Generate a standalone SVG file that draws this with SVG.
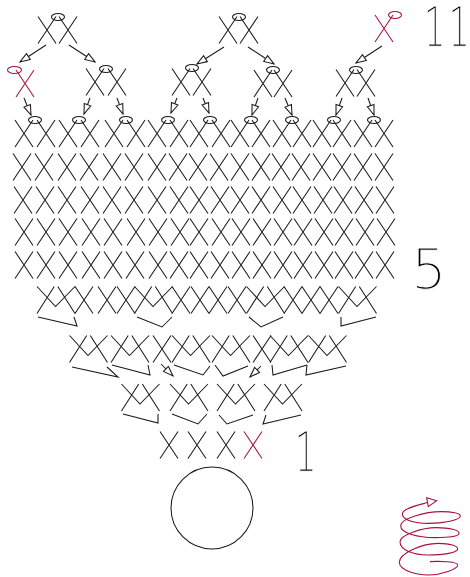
<svg xmlns="http://www.w3.org/2000/svg" width="470" height="577" viewBox="0 0 470 577">
<style>
.s{fill:none;stroke:#1a1a1a;stroke-width:1.05}
.r{fill:none;stroke:#a8123f;stroke-width:1.05}
.a{fill:none;stroke:#1a1a1a;stroke-width:1.05;marker-end:url(#ah)}
.d{font-family:"DejaVu Sans",sans-serif;font-weight:200;font-size:56px;fill:#000;stroke:#fff;stroke-width:.9}
</style>
<defs>
<marker id="ah" markerUnits="userSpaceOnUse" markerWidth="12" markerHeight="9" refX="10" refY="3.5" orient="auto" overflow="visible"><path d="M0,0L10,3.5L0,7Z" fill="#fff" stroke="#1a1a1a" stroke-width="1.05"/></marker>
<path id="x" d="M-9,-13.5L9,13.5M9,-13.5L-9,13.5"/>
<path id="v" d="M-19,-13.5L-0.500,6.500L19,-13.5M-19,13.5L-1.800,-13.5M1.800,-13.5L19,13.5"/>
</defs>
<rect width="470" height="577" fill="#fff"/>
<g id="row11" class="s">
<use href="#x" x="47" y="30"/><use href="#x" x="68" y="30"/><ellipse cx="58" cy="17" rx="6.5" ry="3.5"/>
<use href="#x" x="228" y="30"/><use href="#x" x="249" y="30"/><ellipse cx="239" cy="17" rx="6.5" ry="3.5"/>
</g>
<g id="row11-red" class="r"><use href="#x" x="384" y="28.5"/><ellipse cx="395" cy="15" rx="6.5" ry="3.5"/></g>
<g id="row10" class="s">
<use href="#x" x="95" y="82"/><use href="#x" x="117" y="82"/><ellipse cx="106" cy="69" rx="6.5" ry="3.5"/>
<use href="#x" x="181" y="82"/><use href="#x" x="202" y="82"/><ellipse cx="192" cy="68" rx="6.5" ry="3.5"/>
<use href="#x" x="263" y="83.5"/><use href="#x" x="283" y="83.5"/><ellipse cx="273" cy="70" rx="6.5" ry="3.5"/>
<use href="#x" x="345" y="83"/><use href="#x" x="366" y="83"/><ellipse cx="356" cy="70" rx="6.5" ry="3.5"/>
</g>
<g id="row10-red" class="r"><use href="#x" x="25" y="83.5"/><ellipse cx="14.500" cy="70" rx="7" ry="3.5"/></g>
<g id="row9" class="s">
<use href="#x" x="24" y="133.500"/><use href="#x" x="46" y="133.500"/><use href="#x" x="68" y="133.500"/><use href="#x" x="90" y="133.500"/><use href="#x" x="114" y="133.500"/><use href="#x" x="136" y="133.500"/><use href="#x" x="157" y="133.500"/><use href="#x" x="179" y="133.500"/><use href="#x" x="199" y="133.500"/><use href="#x" x="221" y="133.500"/><use href="#x" x="240" y="133.500"/><use href="#x" x="261" y="133.500"/><use href="#x" x="282" y="133.500"/><use href="#x" x="302" y="133.500"/><use href="#x" x="322" y="133.500"/><use href="#x" x="342" y="133.500"/><use href="#x" x="363" y="133.500"/><use href="#x" x="384" y="133.500"/>
<ellipse cx="35" cy="120" rx="6.5" ry="3.5"/><ellipse cx="79" cy="120" rx="6.5" ry="3.5"/><ellipse cx="126" cy="120" rx="6.5" ry="3.5"/><ellipse cx="168" cy="120" rx="6.5" ry="3.5"/><ellipse cx="210" cy="120" rx="6.5" ry="3.5"/><ellipse cx="251" cy="120" rx="6.5" ry="3.5"/><ellipse cx="292" cy="120" rx="6.5" ry="3.5"/><ellipse cx="334" cy="120" rx="6.5" ry="3.5"/><ellipse cx="374" cy="120" rx="6.5" ry="3.5"/>
</g>
<g id="row8" class="s">
<use href="#x" x="22" y="167"/><use href="#x" x="44" y="167"/><use href="#x" x="67" y="167"/><use href="#x" x="89" y="167"/><use href="#x" x="112" y="167"/><use href="#x" x="134" y="167"/><use href="#x" x="157" y="167"/><use href="#x" x="178" y="167"/><use href="#x" x="198" y="167"/><use href="#x" x="219" y="167"/><use href="#x" x="240" y="167"/><use href="#x" x="261" y="167"/><use href="#x" x="281" y="167"/><use href="#x" x="301" y="167"/><use href="#x" x="322" y="167"/><use href="#x" x="342" y="167"/><use href="#x" x="363" y="167"/><use href="#x" x="384" y="167"/>
</g>
<g id="row7" class="s">
<use href="#x" x="23" y="200"/><use href="#x" x="45" y="200"/><use href="#x" x="67" y="200"/><use href="#x" x="90" y="200"/><use href="#x" x="112" y="200"/><use href="#x" x="134" y="200"/><use href="#x" x="157" y="200"/><use href="#x" x="179" y="200"/><use href="#x" x="199" y="200"/><use href="#x" x="220" y="200"/><use href="#x" x="240" y="200"/><use href="#x" x="261" y="200"/><use href="#x" x="282" y="200"/><use href="#x" x="302" y="200"/><use href="#x" x="323" y="200"/><use href="#x" x="343" y="200"/><use href="#x" x="364" y="200"/><use href="#x" x="385" y="200"/>
</g>
<g id="row6" class="s">
<use href="#x" x="24" y="232"/><use href="#x" x="46" y="232"/><use href="#x" x="68" y="232"/><use href="#x" x="91" y="232"/><use href="#x" x="113" y="232"/><use href="#x" x="136" y="232"/><use href="#x" x="158" y="232"/><use href="#x" x="180" y="232"/><use href="#x" x="199" y="232"/><use href="#x" x="221" y="232"/><use href="#x" x="241" y="232"/><use href="#x" x="262" y="232"/><use href="#x" x="283" y="232"/><use href="#x" x="303" y="232"/><use href="#x" x="324" y="232"/><use href="#x" x="344" y="232"/><use href="#x" x="365" y="232"/><use href="#x" x="386" y="232"/>
</g>
<g id="row5" class="s">
<use href="#x" x="24" y="265"/><use href="#x" x="46" y="265"/><use href="#x" x="68" y="265"/><use href="#x" x="91" y="265"/><use href="#x" x="113" y="265"/><use href="#x" x="135" y="265"/><use href="#x" x="158" y="265"/><use href="#x" x="179" y="265"/><use href="#x" x="199" y="265"/><use href="#x" x="220" y="265"/><use href="#x" x="241" y="265"/><use href="#x" x="262" y="265"/><use href="#x" x="283" y="265"/><use href="#x" x="303" y="265"/><use href="#x" x="324" y="265"/><use href="#x" x="344" y="265"/><use href="#x" x="364" y="265"/><use href="#x" x="385" y="265"/>
</g>
<g id="row4" class="s">
<use href="#v" x="56" y="300"/><use href="#x" x="84" y="300"/><use href="#x" x="107" y="300"/><use href="#x" x="126" y="300"/><use href="#v" x="153.500" y="300"/><use href="#x" x="181" y="300"/><use href="#x" x="200" y="300"/><use href="#x" x="218" y="300"/><use href="#x" x="237" y="300"/><use href="#v" x="265.500" y="300"/><use href="#x" x="293" y="300"/><use href="#x" x="311" y="300"/><use href="#x" x="329" y="300"/><use href="#v" x="357.500" y="300"/>
</g>
<g id="row3" class="s">
<use href="#v" x="88.500" y="349"/><use href="#v" x="130" y="349"/><use href="#x" x="162" y="349"/><use href="#v" x="191" y="349"/><use href="#v" x="231" y="349"/><use href="#x" x="262" y="349"/><use href="#v" x="289" y="349"/><use href="#v" x="327.500" y="349"/>
</g>
<g id="row2" class="s">
<use href="#v" x="140.500" y="397.500"/><use href="#v" x="189" y="397.500"/><use href="#v" x="236" y="397.500"/><use href="#v" x="283" y="397.500"/>
</g>
<g id="row1" class="s"><use href="#x" x="169" y="445"/><use href="#x" x="197" y="445"/><use href="#x" x="226" y="445"/></g>
<g id="row1-red" class="r"><use href="#x" x="253" y="445"/></g>
<g id="ring" class="s"><circle cx="212" cy="508" r="41"/></g>
<g id="connectors">
<g class="s">
<path d="M38,317L77,326L74,317"/><path d="M137,317L162,327L172,317"/><path d="M249,317L261,327L283,317"/><path d="M341,317L341,326L376,317"/>
<path d="M72,367L118,377L107,367"/><path d="M112,365L150,375L148,365"/><path d="M174,365L203,375L210,366"/><path d="M215,365L223,376L248,366"/><path d="M272,365L273,375L307,365"/><path d="M307,365L306,375L346,366"/>
<path d="M123,414L158,423L158,414"/><path d="M172,414L198,424L207,414"/><path d="M219,415L227,424L253,415"/><path d="M266,415L263,424L301,415"/>
</g>
<line class="a" x1="46" y1="45" x2="20" y2="62"/><line class="a" x1="69" y1="45" x2="95" y2="62"/>
<line class="a" x1="24" y1="98" x2="31" y2="115"/><line class="a" x1="90" y1="98" x2="84" y2="114"/><line class="a" x1="117" y1="98" x2="123" y2="114"/><line class="a" x1="177" y1="98" x2="171" y2="113"/><line class="a" x1="203" y1="98" x2="209" y2="113"/>
<line class="a" x1="224" y1="47" x2="197" y2="64"/><line class="a" x1="248" y1="47" x2="274" y2="64"/>
<line class="a" x1="258" y1="98" x2="252" y2="115"/><line class="a" x1="285" y1="98" x2="292" y2="115"/><line class="a" x1="342" y1="98" x2="336" y2="115"/><line class="a" x1="368" y1="98" x2="374" y2="115"/>
<line class="a" x1="382" y1="46" x2="356" y2="63"/>
<line class="a" x1="161" y1="364" x2="173" y2="376"/><line class="a" x1="261" y1="366" x2="250" y2="377"/>
</g>
<g id="labels" opacity=".99">
<text class="d" transform="translate(424,45.500) scale(.6,1)">1</text><text class="d" transform="translate(448.500,45.500) scale(.6,1)">1</text>
<text class="d" transform="translate(411,287.500)">5</text>
<text class="d" transform="translate(295,470.500) scale(.6,1)">1</text>
</g>
<g id="spiral" transform="translate(385,485) scale(.3333)">
<path d="M135,230C165,228 218,230 218,240C218,252 170,270 130,270C90,270 43,255 43,232C43,205 110,175 160,175C195,175 218,182 218,192C218,203 175,210 130,210C85,210 45,195 45,170C45,150 110,128 155,128C195,128 222,135 222,145C222,155 190,158 150,158C100,158 47,145 47,122C47,100 120,80 170,80C200,80 226,85 226,93C226,105 175,115 130,115C90,115 52,105 52,87C52,68 110,58 130,52" fill="none" stroke="#a8123f" stroke-width="3.300"/>
<path d="M155,47L125,38L130,65Z" fill="#fff" stroke="#a8123f" stroke-width="3.300"/>
</g>
</svg>
